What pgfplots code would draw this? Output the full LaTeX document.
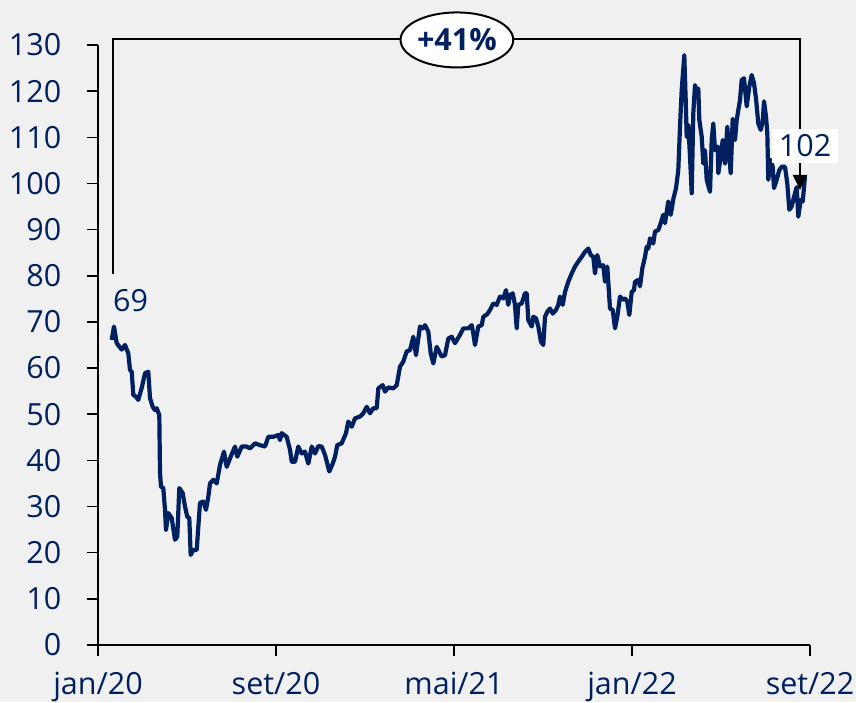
\documentclass[border=0pt]{standalone}
\usepackage{pgfplots}
\pgfplotsset{compat=1.18}
\usepackage{fontspec}
\setmainfont{Open Sans}
\usetikzlibrary{arrows.meta,shapes.geometric}
\definecolor{navy}{RGB}{0,32,96}
\definecolor{bg}{RGB}{240,240,240}
\newcommand{\lbl}{\fontsize{30.5}{36}\selectfont}
\begin{document}
\begin{tikzpicture}
\fill[bg] (0,0) rectangle (856pt,702pt);
\useasboundingbox (0,0) rectangle (856pt,702pt);
\begin{axis}[
  at={(98pt,57pt)}, anchor=south west,
  scale only axis, width=712pt, height=600pt,
  xmin=0, xmax=32, ymin=0, ymax=130,
  enlargelimits=false, clip=false,
  axis x line*=bottom, axis y line*=left,
  axis line style={-, black, line width=2pt},
  tick align=outside, major tick length=11pt,
  tick style={black, line width=1.6pt},
  xtick={0,8,16,24,32},
  xticklabels={jan/20,set/20,mai/21,jan/22,set/22},
  ytick={0,10,...,130},
  /pgf/number format/assume math mode=true,
  tick label style={font=\lbl, text=navy},
  yticklabel style={anchor=east, inner sep=0pt, xshift=-25.5pt},
  xticklabel style={anchor=base, inner sep=0pt, yshift=-38pt},
]
\addplot[navy, line width=4.2pt, line join=round] coordinates {
(0.616,66.1)(0.719,69)(0.840,65.4)(1.065,64)(1.213,65)(1.362,63.2)(1.438,59.6)(1.515,59.2)
(1.587,54.2)(1.708,53.8)(1.811,53.1)(1.964,55.7)(2.112,58.9)(2.261,59.2)(2.337,53.5)(2.458,51.6)
(2.562,50.9)(2.638,51.3)(2.755,49.8)(2.787,37.3)(2.831,34.3)(2.935,34)(3.011,29.3)(3.056,24.9)
(3.160,28.6)(3.312,27.5)(3.461,22.8)(3.564,23.5)(3.654,34)(3.807,32.9)(3.910,30)(4.013,27.8)
(4.103,27.5)(4.166,19.5)(4.283,20.6)(4.436,20.6)(4.584,30.8)(4.733,31.1)(4.854,29.3)(4.957,32.1)
(5.034,35)(5.182,35.8)(5.335,35)(5.483,39)(5.663,41.9)(5.784,38.6)(5.964,40.8)(6.157,43)
(6.261,40.8)(6.458,43)(6.530,43)(6.683,43)(6.831,42.6)(7.056,43.7)(7.281,43.3)(7.506,43)
(7.654,45.1)(7.879,45.1)(8.103,45.5)(8.180,44.4)(8.256,45.9)(8.481,45.1)(8.629,42.3)(8.706,39.7)
(8.854,39.7)(9.002,43)(9.155,41.5)(9.303,41.9)(9.452,39.3)(9.605,43)(9.753,41.5)(9.902,43.1)
(10.054,43)(10.202,41.2)(10.396,37.6)(10.548,39.3)(10.652,40.8)(10.755,43.3)(10.953,43.7)(11.146,45.9)
(11.249,48.4)(11.402,47.3)(11.551,49.1)(11.775,49.5)(11.924,50.2)(12.076,51.6)(12.225,50.2)(12.373,51.3)
(12.526,51.3)(12.598,55.6)(12.796,56.3)(12.899,54.9)(13.047,55.8)(13.272,55.6)(13.425,56.3)(13.573,60.3)
(13.721,61.4)(13.874,63.6)(14.022,63.9)(14.171,66.8)(14.292,62.8)(14.472,69)(14.593,68.6)(14.697,69.3)
(14.845,67.9)(14.953,63.2)(15.070,61)(15.222,64.6)(15.447,62.5)(15.596,62.8)(15.744,66.4)(15.897,66.8)
(16.045,65.4)(16.270,67.2)(16.418,68.6)(16.643,68.6)(16.796,69.3)(16.867,67.5)(16.944,65)(17.092,69)
(17.245,69.3)(17.317,71.1)(17.497,71.7)(17.618,72.6)(17.766,74)(17.919,73.7)(18.067,75.5)(18.216,75.1)
(18.337,76.9)(18.440,73.7)(18.517,75.8)(18.638,76.2)(18.742,73.7)(18.818,68.6)(18.890,73.7)(19.043,74)
(19.191,76.2)(19.267,76.2)(19.339,70.4)(19.492,69)(19.564,71.1)(19.685,70.8)(19.789,69)(19.910,65.7)
(20.013,65)(20.090,71.1)(20.193,72.2)(20.315,72.9)(20.436,71.8)(20.584,72.6)(20.688,73.7)(20.764,75.5)
(20.885,73.7)(20.989,76.5)(21.137,78.7)(21.290,80.5)(21.438,82)(21.587,83.1)(21.739,84.1)(21.888,85.2)
(22.036,85.9)(22.144,84.5)(22.261,84.1)(22.337,80.5)(22.440,84.5)(22.562,82)(22.710,82.3)(22.787,78.7)
(22.890,82)(23.011,72.9)(23.133,72.6)(23.236,68.6)(23.339,71.1)(23.461,75.5)(23.582,74.8)(23.685,75.1)
(23.789,74.4)(23.879,71.5)(23.987,76.5)(24.090,76.9)(24.135,78.7)(24.283,79.1)(24.360,77.7)(24.463,81.6)
(24.584,84.1)(24.661,86.3)(24.733,85.9)(24.809,88.1)(24.957,87)(25.034,89.6)(25.182,89.9)(25.290,91.4)
(25.407,93.2)(25.483,91.4)(25.631,96.1)(25.739,93.2)(25.856,96.6)(25.978,99)(26.081,102.9)(26.157,112.3)
(26.234,120.3)(26.351,127.8)(26.413,118.1)(26.458,110.1)(26.530,112.7)(26.607,105.8)(26.683,97.9)(26.755,115.2)
(26.831,121.3)(26.908,119.5)(26.980,120.6)(27.025,113.8)(27.133,110.1)(27.205,104.3)(27.281,107.2)(27.357,100.8)
(27.506,98.2)(27.582,109.4)(27.654,113)(27.730,107.2)(27.852,108)(27.879,102.2)(27.987,105.8)(28.076,109.4)
(28.180,104.3)(28.283,112.3)(28.373,105.8)(28.436,102.2)(28.526,114)(28.629,109.4)(28.706,113.8)(28.854,118.1)
(28.930,122.4)(29.034,122.8)(29.155,116.7)(29.272,121)(29.380,123.5)(29.483,121.7)(29.573,118.4)(29.676,113)
(29.784,111.6)(29.874,113.4)(29.933,117.8)(30.022,114.5)(30.081,110.9)(30.126,100.8)(30.234,105.1)(30.324,103.6)
(30.382,99)(30.503,100.8)(30.620,102.9)(30.728,103.6)(30.876,103.6)(30.980,100)(31.070,94.3)(31.173,95)
(31.281,97.1)(31.402,99.2)(31.474,92.8)(31.582,96.4)(31.672,96.1)(31.775,101.5)
};
\draw[black, line width=2.5pt, -{Triangle[width=14pt,length=15pt]}]
  (axis cs:0.674,80.4) -- (axis cs:0.674,131.3) -- (axis cs:31.55,131.3) -- (axis cs:31.55,98.6);
\node[ellipse, draw=black, line width=2pt, fill=white, minimum width=103pt, minimum height=55pt, inner sep=0pt,
  text=navy, font=\lbl\bfseries] at (axis cs:16.13,131.1) {+41\%};
\node[anchor=base west, inner sep=0pt, text=navy, font=\lbl] at (axis cs:0.674,72.2) {69};
\node[fill=white, inner xsep=7pt, inner ysep=0pt, minimum height=34pt, text=navy, font=\lbl] at (axis cs:31.78,108.1) {102};
\end{axis}
\end{tikzpicture}
\end{document}
